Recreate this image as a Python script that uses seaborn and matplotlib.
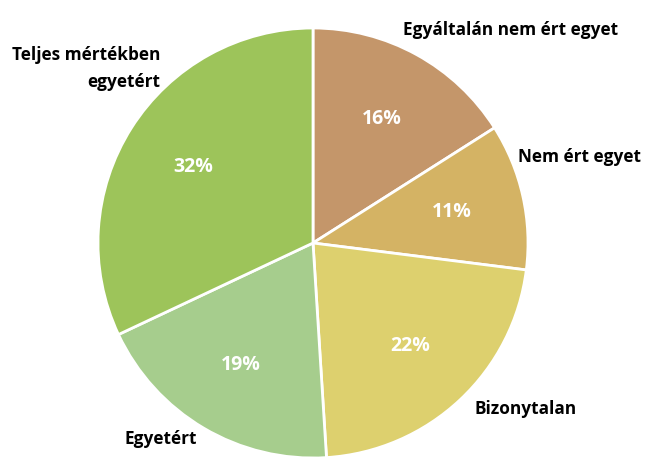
import matplotlib
matplotlib.use("Agg")
import matplotlib.pyplot as plt
import seaborn as sns

# slices in clockwise order, starting at 12 o'clock
categories = ["Egyáltalán nem ért egyet", "Nem ért egyet", "Bizonytalan",
              "Egyetért", "Teljes mértékben egyetért"]
shares = [16, 11, 22, 19, 32]
slice_colors = ["#C4966A", "#D4B364", "#DDD06E", "#A6CD8D", "#9DC45A"]

# where the category names sit (data units, pie radius = 1)
label_pos = {
    "Egyáltalán nem ért egyet": (0.92, 0.99, "center"),
    "Nem ért egyet": (1.24, 0.40, "center"),
    "Bizonytalan": (0.99, -0.77, "center"),
    "Egyetért": (-0.71, -0.91, "center"),
    "Teljes mértékben egyetért": (-0.71, 0.81, "right"),
}
label_text = {
    "Teljes mértékben egyetért": "Teljes mértékben\negyetért",
}

sns.set_theme(style="white")
plt.rcParams["font.family"] = ["Open Sans", "DejaVu Sans"]

fig = plt.figure(figsize=(6.54, 4.58), dpi=100)
ax = fig.add_axes([0, 0, 1, 1])

wedges, texts, autotexts = ax.pie(
    shares,
    colors=slice_colors,
    startangle=90,
    counterclock=False,
    autopct=lambda p: f"{p:.0f}%",
    pctdistance=0.66,
    wedgeprops={"edgecolor": "white", "linewidth": 2},
    textprops={"color": "white", "fontsize": 14, "fontweight": "bold"},
)

for name in categories:
    x, y, ha = label_pos[name]
    ax.text(x, y, label_text.get(name, name), ha=ha, va="center",
            fontsize=12.4, fontweight="bold", color="black",
            multialignment=ha, linespacing=1.65)

# centre at (313, 243) px, radius 215 px
ax.set_xlim(-313 / 215, (654 - 313) / 215)
ax.set_ylim(-(458 - 243) / 215, 243 / 215)
ax.set_aspect("auto")
ax.axis("off")

fig.savefig("out.png", dpi=100, facecolor="white")
plt.close(fig)
